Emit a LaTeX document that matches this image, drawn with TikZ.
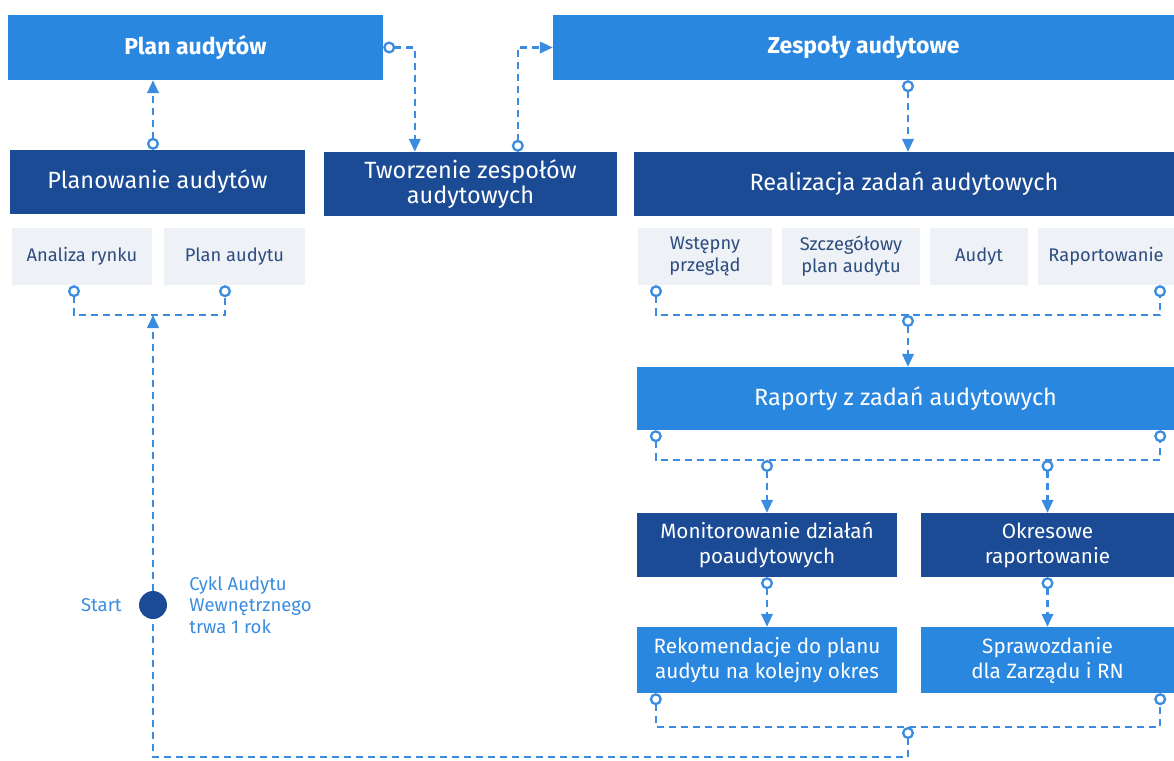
\documentclass[tikz,border=0pt]{standalone}
\usepackage{fontspec}
\setmainfont{Fira Sans}
\usetikzlibrary{arrows.meta}
\usetikzlibrary{positioning}
\definecolor{cblue}{HTML}{2A87E0}
\definecolor{cdark}{HTML}{1B4B95}
\definecolor{cgrey}{HTML}{EEF1F6}
\definecolor{cgreytext}{HTML}{2D4C80}
\definecolor{cline}{HTML}{3A8CE0}
\begin{document}
\begin{tikzpicture}[x=1pt, y=-1pt,
  box/.style={fill=cblue, text=white, inner sep=0pt, align=center, font=\fontsize{23.5}{25}\selectfont},
  darkbox/.style={box, fill=cdark},
  smallbox/.style={font=\fontsize{20.7}{25}\selectfont},
  subbox/.style={fill=cgrey, text=cgreytext, inner sep=0pt, align=center, minimum height=57pt, font=\fontsize{18.3}{22}\selectfont},
  link/.style={draw=cline, line width=2.3pt, dash pattern=on 7pt off 5pt},
  tolink/.style={link, arrows={Circle[open, length=12pt, width=12pt]-Triangle[length=13pt, width=11.5pt]}},
  buslink/.style={link, arrows={Circle[open, length=12pt, width=12pt]-Circle[open, length=12pt, width=12pt]}},
  sidetext/.style={text=cline, inner sep=0pt, align=left, font=\fontsize{18.5}{21.5}\selectfont}]
  \useasboundingbox (0,0) rectangle (1174,760);

  \node[box, minimum width=375pt, minimum height=65pt, font=\fontsize{23}{25}\selectfont\bfseries] (plan) at (195.5,47.5) {Plan audytów};
  \node[box, minimum width=621pt, minimum height=65pt, font=\fontsize{23}{25}\selectfont\bfseries] (zespoly) at (863.5,47.5) {Zespoły audytowe};
  \node[darkbox, minimum width=295pt, minimum height=64pt] (planowanie) at (157.5,182) {Planowanie audytów};
  \node[darkbox, minimum width=293pt, minimum height=64pt] (tworzenie) at (470.5,184) {Tworzenie zespołów\\audytowych};
  \node[darkbox, minimum width=540pt, minimum height=64pt] (realizacja) at (904,184) {Realizacja zadań audytowych};

  \node[subbox, minimum width=140pt] (analiza) at (82,256.5) {Analiza rynku};
  \node[subbox, minimum width=141pt] (planaud) at (234.5,256.5) {Plan audytu};
  \node[subbox, minimum width=134pt] (wstepny) at (705,256.5) {Wstępny\\przegląd};
  \node[subbox, minimum width=138pt] (szczeg) at (851,256.5) {Szczegółowy\\plan audytu};
  \node[subbox, minimum width=98pt] (audyt) at (979,256.5) {Audyt};
  \node[subbox, minimum width=136pt] (raport) at (1106,256.5) {Raportowanie};

  \node[box, minimum width=537pt, minimum height=63pt] (raporty) at (905.5,398.5) {Raporty z zadań audytowych};
  \node[darkbox, smallbox, minimum width=260pt, minimum height=64pt] (monit) at (767,545) {Monitorowanie działań\\poaudytowych};
  \node[darkbox, smallbox, minimum width=253pt, minimum height=64pt] (okres) at (1047.5,545) {Okresowe\\raportowanie};
  \node[box, smallbox, minimum width=260pt, minimum height=66pt] (rekom) at (767,660) {Rekomendacje do planu\\audytu na kolejny okres};
  \node[box, smallbox, minimum width=253pt, minimum height=66pt] (sprawo) at (1047.5,660) {Sprawozdanie\\dla Zarządu i RN};

  \node[circle, fill=cdark, minimum size=28pt, inner sep=0pt] (start) at (153,605) {};
  \node[sidetext, left=17pt of start] (startlbl) {Start};
  \node[sidetext, right=22pt of start] (cykl) {Cykl Audytu\\Wewnętrznego\\trwa 1 rok};

  \coordinate (lbus) at (153,315);
  \coordinate (bus1) at (908,315);
  \coordinate (bus2) at (908,460);
  \coordinate (bus3) at (908,727);

  \draw[tolink] ([xshift=-4.5pt]planowanie.north) -- ([xshift=-4.5pt]planowanie.north |- plan.south);
  \draw[tolink] (plan.east) -| ([xshift=91pt]tworzenie.north west);
  \draw[tolink] ([xshift=194pt]tworzenie.north west) |- (zespoly.west);
  \draw[tolink] (zespoly.south -| bus1) -- (realizacja.north -| bus1);

  \draw[buslink] ([xshift=-8pt]analiza.south) |- (lbus) -| ([xshift=-9.5pt]planaud.south);
  \draw[buslink] ([xshift=-49pt]wstepny.south) |- (bus1) -| ([xshift=54pt]raport.south);
  \draw[tolink] (bus1) -- (raporty.north -| bus1);

  \draw[buslink] ([xshift=19pt]raporty.south west) |- (bus2) -| ([xshift=-14pt]raporty.south east);
  \draw[tolink] (bus2 -| monit) -- (monit.north);
  \draw[tolink] (bus2 -| okres) -- (okres.north);
  \draw[tolink] (monit) -- (rekom);
  \draw[tolink] (okres) -- (sprawo);

  \draw[buslink] ([xshift=19pt]rekom.south west) |- (bus3) -| ([xshift=-14pt]sprawo.south east);
  \draw[link, arrows={Circle[open, length=12pt, width=12pt]-}] (bus3) -- ++(0,30) -| (start.south);
  \draw[link, arrows={-Triangle[length=13pt, width=11.5pt]}] (start.north) -- (lbus);
\end{tikzpicture}
\end{document}
